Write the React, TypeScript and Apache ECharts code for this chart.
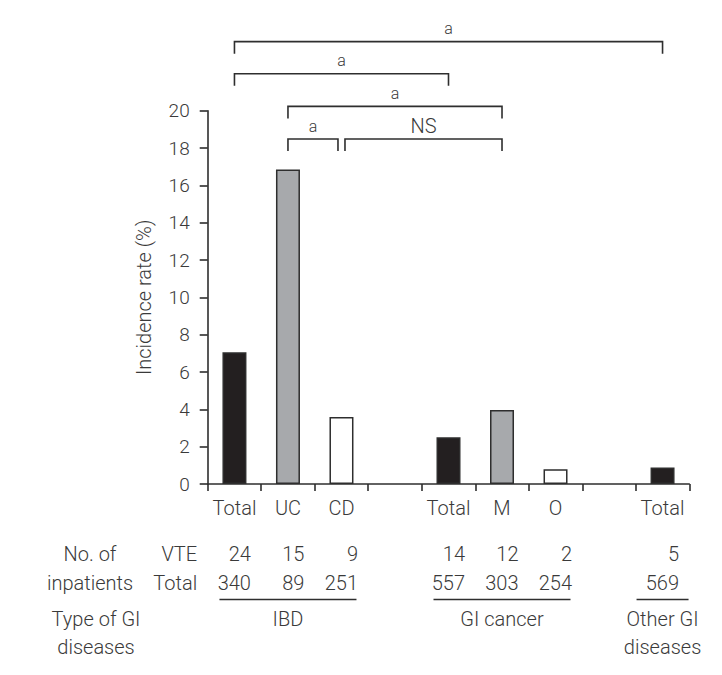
import React, { useEffect, useRef } from 'react';
import * as echarts from 'echarts';

// ---------- data ----------
const categories = ['Total', 'UC', 'CD', '', 'Total', 'M', 'O', '', 'Total'];
const incidenceRates = [7.06, 16.85, 3.59, null, 2.51, 3.96, 0.79, null, 0.88];
const barKinds = ['total', 'sub1', 'sub2', null, 'total', 'sub1', 'sub2', null, 'total'];
const vteCounts = ['24', '15', '9', '', '14', '12', '2', '', '5'];
const totalCounts = ['340', '89', '251', '', '557', '303', '254', '', '569'];
const groupNames = ['IBD', 'GI cancer', 'Other GI\ndiseases'];
const groupFrom = [0, 4, 8];
const groupTo = [2, 6, 8];
const groupCenter = [1, 5, 8];
const bracketFrom = [0, 0, 1, 1, 2];
const bracketTo = [8, 4, 5, 2, 5];
const bracketLabels = ['a', 'a', 'a', 'a', 'NS'];
const yAxisTitle = 'Incidence rate (%)';
const rowTitle = 'No. of\ninpatients';
const rowLabels = ['VTE', 'Total'];
const typeTitle = 'Type of GI\ndiseases';

// ---------- layout / style ----------
const FONT = 'Roboto';
const FW = 300;
const TXT = '#3a3a3a';
const LINE = '#2e2e2e';
const bracketLevelValues = [23.7, 21.98, 20.23, 18.48, 18.48];
const bracketStartNudge = [0, 0, 0, 0, 3.5];
const bracketEndNudge = [0, 0, 0, -3.5, 0];
const fillFor: Record<string, string> = { total: '#231f20', sub1: '#a7a9ac', sub2: '#ffffff' };

export default function App() {
  const ref = useRef<HTMLDivElement>(null);
  useEffect(() => {
    if (!ref.current) return;
    const chart = echarts.init(ref.current, null, { renderer: 'svg' });
    const option: any = {
      animation: false,
      backgroundColor: '#ffffff',
      grid: { left: 207.7, right: 32.7, top: 110.7, bottom: 191, containLabel: false },
      xAxis: {
        type: 'category',
        data: categories,
        boundaryGap: true,
        axisLine: { lineStyle: { color: LINE, width: 1.6 } },
        axisTick: { show: true, interval: 0, length: 7, lineStyle: { color: LINE, width: 1.6 } },
        axisLabel: { interval: 0, margin: 14, color: TXT, fontSize: 20, fontFamily: FONT, fontWeight: FW },
      },
      yAxis: {
        type: 'value',
        min: 0,
        max: 20,
        interval: 2,
        name: yAxisTitle,
        nameLocation: 'middle',
        nameGap: 54,
        nameMoveOverlap: false,
        nameTextStyle: { color: TXT, fontSize: 20, fontFamily: FONT, fontWeight: FW },
        axisLine: { show: true, lineStyle: { color: LINE, width: 1.6 } },
        axisTick: { show: true, length: 8, lineStyle: { color: LINE, width: 1.6 } },
        axisLabel: { margin: 18, color: TXT, fontSize: 19, fontFamily: FONT, fontWeight: FW },
        splitLine: { show: false },
      },
      series: [
        {
          type: 'bar',
          barWidth: 24,
          data: incidenceRates.map((v, i) =>
            v == null
              ? '-'
              : {
                  value: v,
                  itemStyle: {
                    color: fillFor[barKinds[i] as string],
                    borderColor: LINE,
                    borderWidth: 1.5,
                  },
                }
          ),
        },
      ],
    };
    chart.setOption(option);

    const px = (i: number, v: number) => chart.convertToPixel({ gridIndex: 0 }, [i, v]) as number[];
    const y0 = px(0, 0)[1];
    const halfSlot = (px(1, 0)[0] - px(0, 0)[0]) / 2;
    const axisLeft = px(0, 0)[0] - halfSlot;
    const graphics: any[] = [];
    const textStyle = (extra: any) => ({
      fill: TXT,
      fontFamily: FONT,
      fontWeight: FW,
      fontSize: 20,
      ...extra,
    });

    // brackets
    const drop = 12;
    bracketFrom.forEach((from, k) => {
      const x1 = px(from, 0)[0] + bracketStartNudge[k];
      const x2 = px(bracketTo[k], 0)[0] + bracketEndNudge[k];
      const y = px(0, bracketLevelValues[k])[1];
      graphics.push({
        type: 'polyline',
        shape: { points: [[x1, y + drop], [x1, y], [x2, y], [x2, y + drop]] },
        style: { stroke: LINE, lineWidth: 1.6, fill: null },
        silent: true,
      });
      const isNS = bracketLabels[k] === 'NS';
      graphics.push({
        type: 'text',
        x: (x1 + x2) / 2,
        y: y - 13,
        style: textStyle({
          text: bracketLabels[k],
          fontSize: isNS ? 20 : 16,
          align: 'center',
          verticalAlign: 'middle',
        }),
        silent: true,
      });
    });

    // table rows
    const row1 = y0 + 70;
    const row2 = y0 + 98.5;
    const uline = y0 + 115.5;
    const grow = y0 + 135;
    const labelRight = axisLeft - 10.5;
    graphics.push({
      type: 'text', x: 90, y: (row1 + row2) / 2,
      style: textStyle({ text: rowTitle, align: 'center', verticalAlign: 'middle', lineHeight: 28.5 }),
    });
    rowLabels.forEach((lab, r) => {
      graphics.push({
        type: 'text', x: labelRight, y: r === 0 ? row1 : row2,
        style: textStyle({ text: lab, align: 'right', verticalAlign: 'middle' }),
      });
    });
    categories.forEach((_, i) => {
      const cx = px(i, 0)[0];
      if (vteCounts[i]) {
        graphics.push({
          type: 'text', x: cx + 16.5, y: row1,
          style: textStyle({ text: vteCounts[i], align: 'right', verticalAlign: 'middle' }),
        });
      }
      if (totalCounts[i]) {
        graphics.push({
          type: 'text', x: cx + 16.5, y: row2,
          style: textStyle({ text: totalCounts[i], align: 'right', verticalAlign: 'middle' }),
        });
      }
    });
    graphics.push({
      type: 'text', x: 96, y: grow - 14,
      style: textStyle({ text: typeTitle, align: 'center', verticalAlign: 'top', lineHeight: 28 }),
    });
    groupNames.forEach((name, g) => {
      const single = groupFrom[g] === groupTo[g];
      const xa = px(groupFrom[g], 0)[0] - (single ? 26 : 15);
      const xb = px(groupTo[g], 0)[0] + (single ? 26 : 15);
      graphics.push({
        type: 'line',
        shape: { x1: xa, y1: uline, x2: xb, y2: uline },
        style: { stroke: LINE, lineWidth: 1.6 },
      });
      graphics.push({
        type: 'text', x: px(groupCenter[g], 0)[0], y: grow - 14,
        style: textStyle({ text: name, align: 'center', verticalAlign: 'top', lineHeight: 28 }),
      });
    });

    chart.setOption({ graphic: graphics });
    return () => chart.dispose();
  }, []);
  return (
    <div
      ref={ref}
      style={{ position: 'fixed', left: 0, top: 0, width: 722, height: 675, background: '#fff' }}
    />
  );
}
